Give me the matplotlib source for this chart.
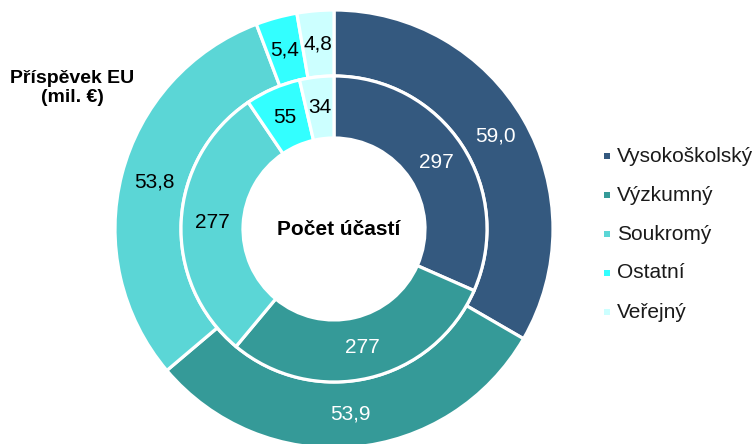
import matplotlib
matplotlib.use("Agg")
import matplotlib.pyplot as plt

plt.rcParams['font.family'] = ['Liberation Sans', 'DejaVu Sans']

# Organisation types and values
categories = ["Vysokoškolský", "Výzkumný", "Soukromý", "Ostatní", "Veřejný"]
eu_contribution = [59.0, 53.9, 53.8, 5.4, 4.8]      # mil. €
participations = [297, 277, 277, 55, 34]
colors = ["#34597f", "#359a98", "#5bd6d6", "#33ffff", "#ccffff"]
outer_text_colors = ["white", "white", "black", "black", "black"]
inner_text_colors = ["white", "white", "black", "black", "black"]

W, H = 755, 444
FS = 15
fig = plt.figure(figsize=(W / 100, H / 100), dpi=100)
ax = fig.add_axes([0, 0, 1, 1])

cx, cy = 334, H - 229
r_out, w_out = 219, 66
r_in, w_in = 153, 62
edge = dict(edgecolor="white", linewidth=2.3)

outer, outer_txt = ax.pie(
    eu_contribution, radius=r_out, center=(cx, cy), colors=colors,
    startangle=90, counterclock=False,
    wedgeprops=dict(width=w_out, **edge),
    labels=[f"{v:.1f}".replace(".", ",") for v in eu_contribution],
    labeldistance=(r_out - w_out / 2) / r_out,
    textprops=dict(fontsize=FS),
)
for t, c in zip(outer_txt, outer_text_colors):
    t.set_color(c)
    t.set_ha("center")
    t.set_va("center")

inner, inner_txt = ax.pie(
    participations, radius=r_in, center=(cx, cy), colors=colors,
    startangle=90, counterclock=False,
    wedgeprops=dict(width=w_in, **edge),
    labels=[str(v) for v in participations],
    labeldistance=(r_in - w_in / 2) / r_in,
    textprops=dict(fontsize=FS),
)
for t, c in zip(inner_txt, inner_text_colors):
    t.set_color(c)
    t.set_ha("center")
    t.set_va("center")

ax.text(cx + 5, cy, "Počet účastí", ha="center", va="center",
        fontsize=FS, fontweight="bold", color="black")
ax.text(72, H - 88, "Příspěvek EU\n(mil. €)", ha="center", va="center",
        fontsize=14, fontweight="bold", color="black", linespacing=1.2)

# Legend
leg_x, leg_y0, leg_dy = 607, H - 156, 39
for i, (name, col) in enumerate(zip(categories, colors)):
    y = leg_y0 - i * leg_dy
    ax.scatter([leg_x], [y], marker="s", s=22, color=col, linewidths=0)
    ax.text(leg_x + 10, y, name, ha="left", va="center", fontsize=FS,
            color="#1a1a1a")

ax.set_xlim(0, W)
ax.set_ylim(0, H)
ax.set_aspect("equal")
ax.axis("off")

fig.savefig("out.png", dpi=100, facecolor="white")
